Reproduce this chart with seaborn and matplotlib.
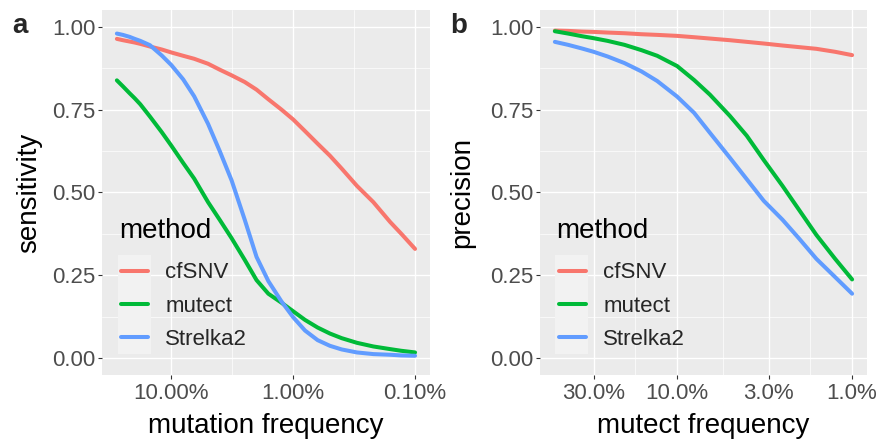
import numpy as np
import pandas as pd
import matplotlib
matplotlib.use("Agg")
import matplotlib.pyplot as plt
import matplotlib.ticker as mticker
from matplotlib.patches import Rectangle
import seaborn as sns

# ---------------- data ----------------
methods = ["cfSNV", "mutect", "Strelka2"]
palette = ["#F8766D", "#00BA38", "#619CFF"]

freq_a = [0.28, 0.25, 0.22, 0.2, 0.18, 0.15, 0.12, 0.1, 0.08, 0.065, 0.05,
          0.04, 0.032, 0.025, 0.02, 0.016, 0.0125, 0.01, 0.008, 0.0063,
          0.005, 0.004, 0.003, 0.0022, 0.0016, 0.0013, 0.001]
sens_cfsnv = [0.963, 0.959, 0.955, 0.952, 0.948, 0.940, 0.931, 0.922, 0.912,
              0.903, 0.888, 0.870, 0.853, 0.833, 0.810, 0.781, 0.750, 0.720,
              0.685, 0.647, 0.611, 0.572, 0.520, 0.471, 0.411, 0.376, 0.330]
sens_mutect = [0.838, 0.820, 0.799, 0.784, 0.766, 0.729, 0.682, 0.641, 0.589,
               0.542, 0.471, 0.417, 0.362, 0.297, 0.236, 0.195, 0.168, 0.142,
               0.116, 0.093, 0.075, 0.061, 0.047, 0.036, 0.028, 0.023, 0.018]
sens_strelka = [0.979, 0.975, 0.969, 0.963, 0.957, 0.944, 0.913, 0.884, 0.841,
                0.790, 0.707, 0.624, 0.536, 0.418, 0.306, 0.233, 0.172, 0.124,
                0.084, 0.055, 0.038, 0.027, 0.018, 0.013, 0.011, 0.009, 0.008]

freq_b = [0.5, 0.42, 0.35, 0.3, 0.25, 0.2, 0.16, 0.13, 0.1, 0.08, 0.065, 0.05,
          0.04, 0.032, 0.025, 0.02, 0.016, 0.0125, 0.01]
prec_cfsnv = [0.988, 0.987, 0.985, 0.984, 0.982, 0.980, 0.977, 0.975, 0.972,
              0.968, 0.964, 0.959, 0.954, 0.949, 0.943, 0.938, 0.933, 0.924,
              0.914]
prec_mutect = [0.986, 0.979, 0.971, 0.965, 0.957, 0.945, 0.929, 0.912, 0.881,
               0.839, 0.795, 0.731, 0.671, 0.598, 0.520, 0.446, 0.372, 0.300,
               0.238]
prec_strelka = [0.954, 0.945, 0.934, 0.924, 0.910, 0.890, 0.865, 0.836, 0.789,
                0.740, 0.680, 0.605, 0.540, 0.475, 0.418, 0.360, 0.300, 0.245,
                0.195]

xticks_a = [0.1, 0.01, 0.001]
xticklabels_a = ["10.00%", "1.00%", "0.10%"]
xticks_b = [0.3, 0.1, 0.03, 0.01]
xticklabels_b = ["30.0%", "10.0%", "3.0%", "1.0%"]
yticks = [0.0, 0.25, 0.5, 0.75, 1.0]
yticklabels = ["0.00", "0.25", "0.50", "0.75", "1.00"]

df_a = pd.DataFrame({
    "freq": freq_a * 3,
    "value": sens_cfsnv + sens_mutect + sens_strelka,
    "method": [m for m in methods for _ in freq_a],
})
df_b = pd.DataFrame({
    "freq": freq_b * 3,
    "value": prec_cfsnv + prec_mutect + prec_strelka,
    "method": [m for m in methods for _ in freq_b],
})

# ---------------- style ----------------
sns.set_theme(style="darkgrid", rc={
    "axes.facecolor": "#EBEBEB",
    "grid.color": "white",
})
plt.rcParams["font.family"] = ["Liberation Sans", "DejaVu Sans"]

fig = plt.figure(figsize=(8.8, 4.45), dpi=100)
fig.patch.set_facecolor("white")

W, H = 880, 445
def rect(x0, x1, y0, y1):
    return [x0 / W, 1 - y1 / H, (x1 - x0) / W, (y1 - y0) / H]

ax_a = fig.add_axes(rect(102, 430, 10, 375))
ax_b = fig.add_axes(rect(540, 867, 10, 375))


def style_panel(ax, df, xlim, xt, xtl, ylabel, xlabel, ylab_x, leg_x, title_x):
    sns.lineplot(data=df, x="freq", y="value", hue="method",
                 hue_order=methods, palette=palette, estimator=None,
                 linewidth=2.9, ax=ax)
    ax.set_xscale("log")
    ax.set_xlim(*xlim)
    ax.set_ylim(-0.05, 1.05)
    ax.xaxis.set_major_locator(mticker.FixedLocator(xt))
    ax.xaxis.set_major_formatter(mticker.FixedFormatter(xtl))
    minors = [np.sqrt(xt[i] * xt[i + 1]) for i in range(len(xt) - 1)]
    ax.xaxis.set_minor_locator(mticker.FixedLocator(minors))
    ax.xaxis.set_minor_formatter(mticker.NullFormatter())
    ax.yaxis.set_major_locator(mticker.FixedLocator(yticks))
    ax.yaxis.set_major_formatter(mticker.FixedFormatter(yticklabels))
    ax.yaxis.set_minor_locator(mticker.FixedLocator([0.125, 0.375, 0.625, 0.875]))
    ax.grid(which="major", color="white", linewidth=1.0)
    ax.grid(which="minor", color="white", linewidth=0.5)
    ax.set_axisbelow(True)
    for s in ax.spines.values():
        s.set_visible(False)
    ax.tick_params(which="major", axis="both", length=3, width=0.8,
                   color="#333333", labelsize=16, labelcolor="#4D4D4D",
                   left=True, bottom=True)
    ax.tick_params(which="major", axis="y", pad=1.5)
    ax.tick_params(which="major", axis="x", pad=2.5)
    ax.tick_params(which="minor", length=0)
    ax.set_ylabel(ylabel, fontsize=20, color="black")
    ax.set_xlabel(xlabel, fontsize=20, color="black")
    ax.yaxis.set_label_coords(ylab_x, 0.5)
    ax.xaxis.set_label_coords(0.5, -0.105)

    handles, labels = ax.get_legend_handles_labels()
    for h in handles:
        h.set_linewidth(2.9)
    ax.legend(handles, labels, loc="lower left",
              bbox_to_anchor=(leg_x, 0.0685), frameon=False,
              fontsize=16, handlelength=1.2, handletextpad=0.8,
              labelspacing=0.555, borderpad=0.0, borderaxespad=0.0)
    ax.text(title_x, 0.3753, "method", transform=ax.transAxes, fontsize=20,
            color="black", ha="left", va="baseline")
    ax.add_patch(Rectangle((title_x - 0.003, 0.0575), 0.1, 0.271,
                           transform=ax.transAxes, facecolor="#F2F2F2",
                           edgecolor="none", zorder=1))


style_panel(ax_a, df_a, (0.3709, 0.000754), xticks_a, xticklabels_a,
            "sensitivity", "mutation frequency", -0.183, 0.058, 0.052)
style_panel(ax_b, df_b, (0.608, 0.00822), xticks_b, xticklabels_b,
            "precision", "mutect frequency", -0.199, 0.058, 0.049)

fig.text(12 / W, 1 - 33 / H, "a", fontsize=20, fontweight="bold",
         va="baseline", ha="left")
fig.text(450 / W, 1 - 33 / H, "b", fontsize=20, fontweight="bold",
         va="baseline", ha="left")

fig.savefig("out.png", dpi=100)
